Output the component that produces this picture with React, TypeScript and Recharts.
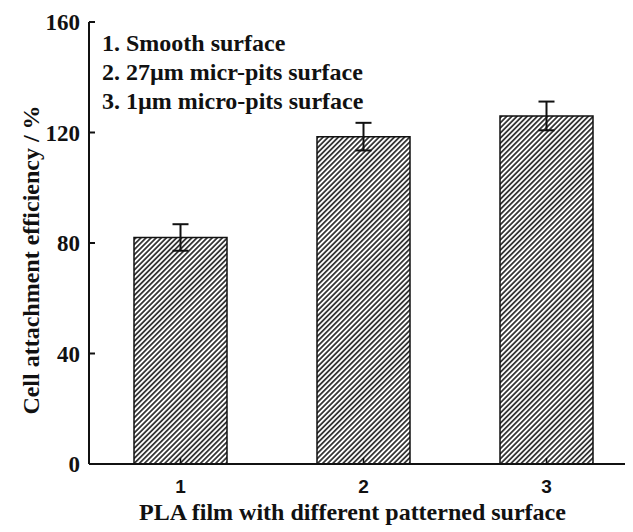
import React from 'react';
import { BarChart, Bar, XAxis, YAxis, ErrorBar, Label } from 'recharts';

const categories = ['1', '2', '3'];
const efficiency = [82, 118.5, 126];
const errors = [4.8, 5, 5.2];
const yTicks = [0, 40, 80, 120, 160];
const descriptions = [
  '1. Smooth surface',
  '2. 27\u00b5m micr-pits surface',
  '3. 1\u00b5m micro-pits surface',
];
const xTitle = 'PLA film with different patterned surface';
const yTitle = 'Cell attachment efficiency / %';

const data = categories.map((c, i) => ({ cat: c, value: efficiency[i], err: errors[i] }));

const serif = '"Liberation Serif", "Times New Roman", serif';
const sans = '"Liberation Sans", Arial, sans-serif';
const ink = '#111';

const XTitle = (props: any) => {
  const vb = props.viewBox || {};
  const cx = vb.x + vb.width / 2 - 11;
  return (
    <text x={cx} y={512} textAnchor="middle" fontFamily={serif} fontWeight="bold" fontSize={24} fill={ink}>
      {xTitle}
    </text>
  );
};

const YTitle = () => {
  const x = 23;
  const y = 252;
  return (
    <text
      x={x}
      y={y}
      transform={`rotate(-90, ${x}, ${y})`}
      textAnchor="middle"
      dominantBaseline="central"
      fontFamily={serif}
      fontWeight="bold"
      fontSize={24}
      fill={ink}
    >
      {yTitle}
    </text>
  );
};

export default function App() {
  return (
    <div style={{ position: 'relative', width: 625, height: 524, overflow: 'hidden', background: '#fff' }}>
      <svg width={0} height={0} style={{ position: 'absolute' }}>
        <defs>
          <pattern id="hatch" patternUnits="userSpaceOnUse" width={3.6} height={3.6} patternTransform="rotate(45)">
            <rect width={3.6} height={3.6} fill="#fff" />
            <line x1={0.9} y1={0} x2={0.9} y2={3.6} stroke="#2a2a2a" strokeWidth={1.7} />
          </pattern>
        </defs>
      </svg>
      <BarChart width={640} height={524} data={data} margin={{ top: 14, right: 10, left: 0, bottom: 0 }}>
        <XAxis
          xAxisId="top"
          orientation="top"
          dataKey="cat"
          height={0}
          tick={false}
          tickLine={false}
          axisLine={{ stroke: ink, strokeWidth: 2 }}
        />
        <XAxis
          dataKey="cat"
          height={68}
          axisLine={{ stroke: ink, strokeWidth: 2 }}
          tickLine={{ stroke: ink, strokeWidth: 1.5 }}
          tickSize={-6}
          tickMargin={22}
          tick={{ fill: ink, fontFamily: sans, fontWeight: 'bold', fontSize: 19 }}
        >
          <Label content={<XTitle />} />
        </XAxis>
        <YAxis
          width={81}
          domain={[0, 160]}
          ticks={yTicks}
          interval={0}
          allowDataOverflow
          axisLine={{ stroke: ink, strokeWidth: 2 }}
          tickLine={{ stroke: ink, strokeWidth: 2 }}
          tickSize={-6}
          tickMargin={15}
          tick={{ fill: ink, fontFamily: serif, fontWeight: 'bold', fontSize: 23 }}
        >
          <Label content={<YTitle />} />
        </YAxis>
        <Bar dataKey="value" barSize={93} fill="url(#hatch)" stroke={ink} strokeWidth={1.5} isAnimationActive={false}>
          <ErrorBar dataKey="err" direction="y" width={8} stroke={ink} strokeWidth={2} isAnimationActive={false} />
        </Bar>
      </BarChart>
      <div
        style={{
          position: 'absolute',
          left: 94,
          top: 21,
          fontFamily: serif,
          fontWeight: 'bold',
          fontSize: 24,
          lineHeight: '29px',
          color: ink,
          whiteSpace: 'nowrap',
        }}
      >
        {descriptions.map((d) => (
          <div key={d}>{d}</div>
        ))}
      </div>
    </div>
  );
}
